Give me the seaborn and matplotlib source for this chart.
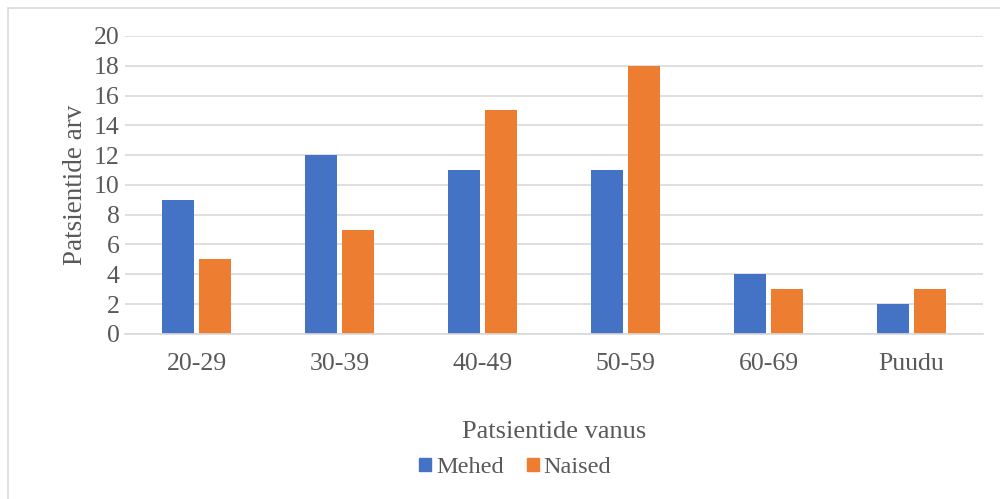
import matplotlib
matplotlib.use("Agg")
import matplotlib.pyplot as plt
import matplotlib.patches as mpatches
import seaborn as sns
import pandas as pd

age_groups = ["20-29", "30-39", "40-49", "50-59", "60-69", "Puudu"]
mehed = [9, 12, 11, 11, 4, 2]
naised = [5, 7, 15, 18, 3, 3]
series_names = ["Mehed", "Naised"]
colors = ["#4472C4", "#ED7D31"]

df = pd.DataFrame({
    "vanus": age_groups * 2,
    "arv": mehed + naised,
    "sugu": [series_names[0]] * len(age_groups) + [series_names[1]] * len(age_groups),
})

sns.set_theme(style="white")
serif = ["Liberation Serif", "DejaVu Serif"]
plt.rcParams["font.family"] = serif
text_color = "#595959"

fig = plt.figure(figsize=(10, 4.99), dpi=100)
ax = fig.add_axes([0.125, 0.331, 0.858, 0.597])

sns.barplot(data=df, x="vanus", y="arv", hue="sugu", order=age_groups,
            hue_order=series_names, palette=colors, width=0.51, gap=0.12,
            saturation=1, linewidth=0, ax=ax, legend=True)

ax.set_ylim(0, 20)
ax.set_yticks(range(0, 21, 2))
ax.set_xlim(-0.5, len(age_groups) - 0.5)
ax.yaxis.grid(True, color="#D9D9D9", linewidth=1.2)
ax.set_axisbelow(True)
for side in ["top", "right", "left"]:
    ax.spines[side].set_visible(False)
ax.spines["bottom"].set_color("#D9D9D9")
ax.spines["bottom"].set_linewidth(1.2)
ax.tick_params(axis="both", length=0, labelsize=18.5, colors=text_color)
ax.tick_params(axis="x", pad=14)
ax.tick_params(axis="y", pad=4)

ax.set_xlabel("Patsientide vanus", fontsize=19, color=text_color, labelpad=33)
ax.set_ylabel("Patsientide arv", fontsize=19.5, color=text_color, labelpad=4)

ax.legend_.remove()
handles = [mpatches.Patch(color=c, label=n) for c, n in zip(colors, series_names)]
fig.legend(handles=handles, loc="center", bbox_to_anchor=(0.515, 0.063), ncol=2,
           frameon=False, prop={"family": serif, "size": 17.5},
           handlelength=0.5, handleheight=0.5,
           handletextpad=0.2, columnspacing=0.95, labelcolor=text_color,
           borderpad=0)

# light frame around the chart area
fig.patches.append(mpatches.Rectangle((0.008, -0.1), 1.2, 1.084, transform=fig.transFigure,
                                      fill=False, edgecolor="#D9D9D9", linewidth=1.2))

fig.savefig("out.png", dpi=100, facecolor="white")
